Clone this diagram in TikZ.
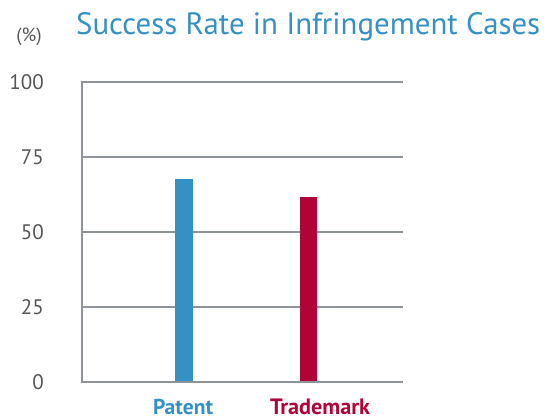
\documentclass[tikz,border=0pt]{standalone}
\usepackage{fontspec}
\setmainfont{PT Sans}
\definecolor{tblue}{HTML}{3590C4}
\definecolor{tred}{HTML}{B00438}
\definecolor{grid}{HTML}{8E9399}
\definecolor{lbl}{HTML}{555555}
\begin{document}
\begin{tikzpicture}[x=1pt,y=-1pt,
  gridline/.style={draw=grid,line width=2.2pt},
  ticklbl/.style={anchor=east,text=lbl,font=\fontsize{21}{21}\selectfont,inner sep=0pt},
  catlbl/.style={anchor=base,font=\fontsize{20}{20}\selectfont\bfseries,inner sep=0pt}]
\useasboundingbox (0,0) rectangle (556,419);
\node[anchor=base west,text=tblue,font=\fontsize{29}{29}\selectfont,inner sep=0pt] (title) at (76,35) {\resizebox{464pt}{!}{Success Rate in Infringement Cases}};
\node[anchor=base,text=lbl,font=\fontsize{19}{19}\selectfont,inner sep=0pt] (pct) at (29,42) {(\%)};
\foreach \v/\y in {100/82,75/157,50/232,25/307}{
  \draw[gridline] (82,\y) -- (403,\y);
}
\fill[tblue] (175,179.5) rectangle (193,382);
\fill[tred] (299.5,197) rectangle (317,382);
\draw[gridline] (82,81) -- (82,382) -- (403,382);
\node[ticklbl] (t100) at (44,82) {100};
\node[ticklbl] (t75) at (44,157) {75};
\node[ticklbl] (t50) at (44,232) {50};
\node[ticklbl] (t25) at (44,307) {25};
\node[ticklbl] (t0) at (44,382) {0};
\node[catlbl,text=tblue] (patent) at (183,414) {\resizebox{60pt}{!}{Patent}};
\node[catlbl,text=tred] (trademark) at (320,414) {\resizebox{100pt}{!}{Trademark}};
\end{tikzpicture}
\end{document}
